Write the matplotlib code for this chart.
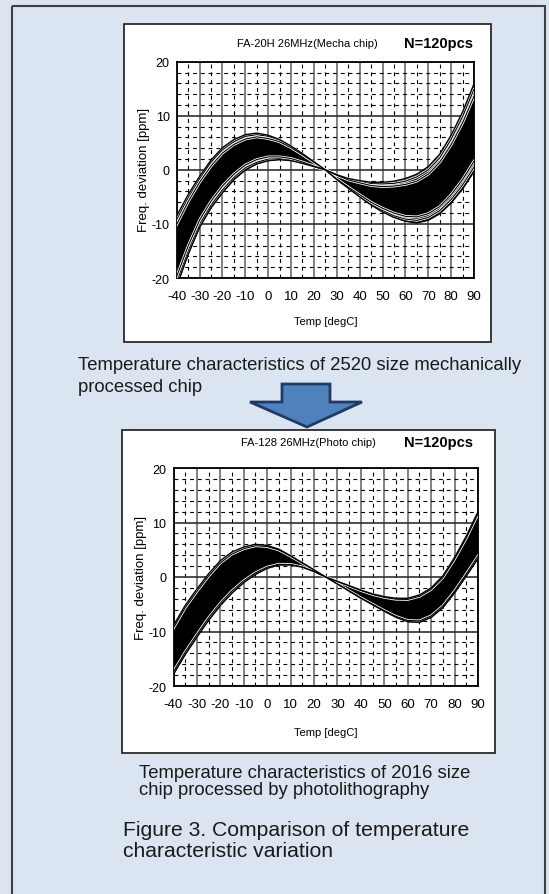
import matplotlib
matplotlib.use("Agg")
import matplotlib.pyplot as plt
import matplotlib.patheffects as pe
from matplotlib import font_manager
from matplotlib.patches import Rectangle, Polygon
from matplotlib.ticker import MultipleLocator

W, H = 549, 895

temps = [-40, -35, -30, -25, -20, -15, -10, -5, 0, 5, 10, 15, 20, 25,
         30, 35, 40, 45, 50, 55, 60, 65, 70, 75, 80, 85, 90]

# FA-20H 26MHz (mechanically processed) - the two outermost curves of the spread
mecha_wide = [-8.5, -4.6, -1.2, 1.8, 4.1, 5.6, 6.5, 6.8, 6.4, 5.6, 4.4, 3.0, 1.5, 0,
              -1.8, -3.4, -5.0, -6.5, -7.8, -8.8, -9.5, -9.8, -9.3, -8.1, -6.1, -3.5, -0.3]
mecha_flat = [-21.5, -15.6, -10.6, -7.0, -4.2, -1.8, 0.0, 1.1, 1.7, 1.9, 1.7, 1.2, 0.6, 0,
              -0.9, -1.6, -2.0, -2.3, -2.3, -2.1, -1.6, -0.8, 0.6, 2.9, 6.4, 10.7, 15.9]
# separate curves that show just inside the edges of the band
mecha_edge = [
    [-9.2, -5.2, -1.7, 1.4, 3.7, 5.2, 6.2, 6.5, 6.2, 5.4, 4.3, 2.9, 1.45, 0,
     -1.75, -3.3, -4.85, -6.3, -7.5, -8.5, -9.1, -9.35, -8.8, -7.55, -5.5, -2.8, 0.5],
    [-10.1, -5.9, -2.3, 0.7, 3.1, 4.7, 5.7, 6.1, 5.8, 5.2, 4.1, 2.8, 1.4, 0,
     -1.7, -3.2, -4.6, -6.0, -7.1, -8.0, -8.6, -8.7, -8.1, -6.8, -4.6, -1.8, 1.6],
    [-20.7, -14.9, -10.0, -6.5, -3.7, -1.4, 0.4, 1.4, 2.0, 2.1, 1.9, 1.3, 0.65, 0,
     -0.95, -1.7, -2.2, -2.55, -2.6, -2.5, -2.1, -1.3, 0.0, 2.2, 5.65, 9.85, 14.9],
    [-19.7, -14.1, -9.3, -5.8, -3.0, -0.8, 0.9, 1.9, 2.4, 2.4, 2.1, 1.45, 0.7, 0,
     -1.0, -1.85, -2.4, -2.9, -3.1, -3.0, -2.7, -2.1, -0.8, 1.4, 4.65, 8.7, 13.6],
]

# FA-128 26MHz (photolithography)
photo_wide = [-8.9, -5.2, -2.2, 0.6, 3.0, 4.6, 5.5, 6.0, 5.8, 5.1, 3.9, 2.6, 1.3, 0,
              -1.3, -2.6, -3.9, -5.1, -6.3, -7.4, -8.2, -8.3, -7.4, -5.6, -2.9, 0.2, 3.4]
photo_flat = [-17.8, -14.2, -11.0, -7.9, -5.2, -2.9, -1.0, 0.5, 1.6, 2.2, 2.2, 1.8, 1.0, 0,
              -0.8, -1.6, -2.4, -3.1, -3.6, -3.9, -3.9, -3.3, -2.0, 0.2, 3.6, 7.5, 12.0]
photo_edge = [
    [-9.35, -5.65, -2.64, 0.18, 2.59, 4.23, 5.18, 5.73, 5.59, 4.96, 3.82, 2.56, 1.29, 0,
     -1.28, -2.55, -3.83, -5.0, -6.17, -7.23, -7.99, -8.05, -7.13, -5.31, -2.58, 0.57, 3.83],
    [-17.36, -13.75, -10.56, -7.48, -4.79, -2.53, -0.68, 0.78, 1.81, 2.35, 2.29, 1.84, 1.02, 0,
     -0.83, -1.65, -2.48, -3.2, -3.74, -4.08, -4.12, -3.55, -2.27, -0.09, 3.28, 7.14, 11.57],
]

BG = "#dbe5f1"
names = {f.name for f in font_manager.fontManager.ttflist}
HAS_NARROW = "Liberation Sans Narrow" in names
NARROW = "Liberation Sans Narrow" if HAS_NARROW else "Liberation Sans"
SMALL = 9.3 if HAS_NARROW else 8
plt.rcParams["font.family"] = ["Liberation Sans", "DejaVu Sans"]
plt.rcParams["axes.unicode_minus"] = False

fig = plt.figure(figsize=(W / 100, H / 100), dpi=100)
fig.patch.set_facecolor(BG)

# full-figure layer in pixel units for frames, arrow and captions
bg = fig.add_axes([0, 0, 1, 1])
bg.set_xlim(0, W)
bg.set_ylim(H, 0)
bg.axis("off")

bg.add_patch(Rectangle((12, 7), 533, 900, fill=False, ec="#404040", lw=1.5))
bg.add_patch(Rectangle((124, 25), 367, 318, fc="white", ec="#2a2a2a", lw=1.3))
bg.add_patch(Rectangle((122, 431), 372.5, 323, fc="white", ec="#2a2a2a", lw=1.3))
bg.add_patch(Polygon([(282, 385), (330, 385), (330, 403), (362, 403), (307, 428),
                      (250, 403), (282, 403)], closed=True,
                     fc="#4f81bd", ec="#1f3b63", lw=2))


def px_axes(left, top, right, bottom):
    return fig.add_axes([left / W, 1 - bottom / H, (right - left) / W, (bottom - top) / H])


def draw_chart(ax, wide, flat, edges):
    ax.fill_between(temps, wide, flat, color="black", lw=0, zorder=3)
    for c in edges:
        ax.plot(temps, c, color="black", lw=0.8, zorder=4,
                path_effects=[pe.Stroke(linewidth=2.0, foreground="white"), pe.Normal()])
    for c in (wide, flat):
        ax.plot(temps, c, color="black", lw=1.0, zorder=5)

    ax.set_xlim(-40, 90)
    ax.set_ylim(-20, 20)
    ax.xaxis.set_major_locator(MultipleLocator(10))
    ax.xaxis.set_minor_locator(MultipleLocator(5))
    ax.yaxis.set_major_locator(MultipleLocator(10))
    ax.yaxis.set_minor_locator(MultipleLocator(2))
    ax.set_axisbelow(True)
    ax.grid(which="major", axis="x", color="#808080", lw=1.4)
    ax.grid(which="major", axis="y", color="#303030", lw=1.2)
    ax.grid(which="minor", color="black", lw=0.8, ls=(0, (3.5, 3.5)))
    ax.tick_params(which="both", length=0)
    ax.tick_params(axis="x", labelsize=9.5, pad=9)
    ax.tick_params(axis="y", labelsize=9, pad=5)
    for s in ax.spines.values():
        s.set_linewidth(1.3)
        s.set_color("black")


ax1 = px_axes(176.7, 62.7, 474, 279)
draw_chart(ax1, mecha_wide, mecha_flat, mecha_edge)
ax2 = px_axes(173.5, 469, 478, 687)
draw_chart(ax2, photo_wide, photo_flat, photo_edge)

# chart titles and axis labels
bg.text(307.5, 44, "FA-20H 26MHz(Mecha chip)", ha="center", va="center",
        fontsize=SMALL, family=NARROW)
bg.text(473, 44, "N=120pcs", ha="right", va="center", fontsize=10.5, fontweight="bold")
bg.text(144, 170, "Freq. deviation [ppm]", ha="center", va="center", rotation=90, fontsize=9.5)
bg.text(325.4, 322, "Temp [degC]", ha="center", va="center", fontsize=SMALL, family=NARROW)

bg.text(308, 443, "FA-128 26MHz(Photo chip)", ha="center", va="center",
        fontsize=SMALL, family=NARROW)
bg.text(473, 443, "N=120pcs", ha="right", va="center", fontsize=10.5, fontweight="bold")
bg.text(141, 578, "Freq. deviation [ppm]", ha="center", va="center", rotation=90, fontsize=9.5)
bg.text(325.8, 733, "Temp [degC]", ha="center", va="center", fontsize=SMALL, family=NARROW)

# captions
cap = dict(ha="left", va="baseline", color="#1a1a1a")
bg.text(78, 370, "Temperature characteristics of 2520 size mechanically", fontsize=13.3, **cap)
bg.text(78, 392.5, "processed chip", fontsize=13.3, **cap)
bg.text(139, 778.5, "Temperature characteristics of 2016 size", fontsize=13.3, **cap)
bg.text(139, 795.5, "chip processed by photolithography", fontsize=13.3, **cap)
bg.text(123, 836, "Figure 3. Comparison of temperature", fontsize=15.2, **cap)
bg.text(123, 857, "characteristic variation", fontsize=15.2, **cap)

fig.savefig("out.png", dpi=100, facecolor=BG)
